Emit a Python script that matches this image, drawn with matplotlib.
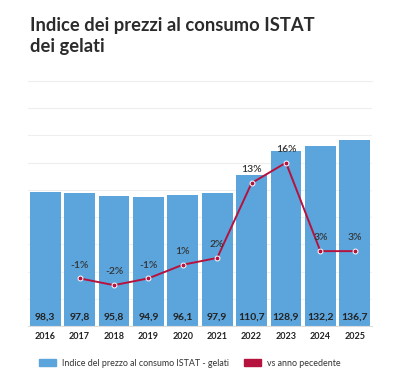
import matplotlib
matplotlib.use('Agg')
import matplotlib.pyplot as plt
from matplotlib.patches import Patch
from matplotlib.lines import Line2D

years = ['2016', '2017', '2018', '2019', '2020', '2021', '2022', '2023', '2024', '2025']
index_vals = [98.3, 97.8, 95.8, 94.9, 96.1, 97.9, 110.7, 128.9, 132.2, 136.7]
yoy_years = years[1:]
yoy_pct = [-1, -2, -1, 1, 2, 13, 16, 3, 3]

plt.rcParams['font.family'] = ['Lato', 'DejaVu Sans']

bar_color = '#5CA5DC'
line_color = '#B5123E'
text_dark = '#222222'

fig = plt.figure(figsize=(3.99, 3.83), dpi=100)
ax = fig.add_axes([28 / 399, 1 - 326 / 383, 344 / 399, 245 / 383])

x = list(range(len(years)))
ax.bar(x, index_vals, width=0.9, color=bar_color, zorder=2)
for xi, v in zip(x, index_vals):
    ax.text(xi, 3, f'{v:.1f}'.replace('.', ','), ha='center', va='bottom',
            fontsize=7.5, fontweight='bold', color=text_dark, zorder=4)

ax.set_ylim(0, 180)
ax.set_yticks(range(0, 181, 20))
ax.set_xlim(-0.5, len(years) - 0.5)
ax.grid(axis='y', color='#eeeeee', linewidth=0.8, zorder=0)
ax.set_xticks(x)
ax.set_xticklabels(years, fontsize=6.5, fontweight='bold', color=text_dark)
for s in ['top', 'right', 'left']:
    ax.spines[s].set_visible(False)
ax.spines['bottom'].set_color('#dddddd')

ax2 = ax.twinx()
xl = [years.index(y) for y in yoy_years]
ax2.plot(xl, yoy_pct, color=line_color, linewidth=1.4, marker='o', markersize=3.5,
         markerfacecolor=line_color, markeredgecolor='white', markeredgewidth=0.7, zorder=3)
for xi, v in zip(xl, yoy_pct):
    ax2.text(xi, v + 1.3, f'{v}%', ha='center', va='bottom', fontsize=7.5,
             fontweight='semibold', color='#333333', zorder=4)
ax2.set_ylim(-8, 28)
ax2.axis('off')

ax.tick_params(axis='x', length=0, pad=4)
ax.tick_params(axis='y', left=False, right=False, labelleft=False, labelright=False)

fig.text(30 / 399, 1 - 36 / 383, 'Indice dei prezzi al consumo ISTAT\ndei gelati',
         ha='left', va='center', fontsize=13.2, fontweight='bold', color='#2b2b2b',
         linespacing=1.3)
fig.lines.append(Line2D([28 / 399, 372 / 399], [1 - 81 / 383, 1 - 81 / 383],
                        transform=fig.transFigure, color='#eeeeee', linewidth=0.8))

handles = [Patch(color=bar_color), Patch(color=line_color)]
labels = ['Indice del prezzo al consumo ISTAT - gelati', 'vs anno pecedente']
fig.legend(handles, labels, loc='center', bbox_to_anchor=(190 / 399, 1 - 363 / 383),
           ncol=2, frameon=False, fontsize=6.4, handlelength=1.9, handleheight=0.9,
           handletextpad=0.7, columnspacing=1.7, labelcolor='#333333')

fig.savefig('out.png', dpi=100)
